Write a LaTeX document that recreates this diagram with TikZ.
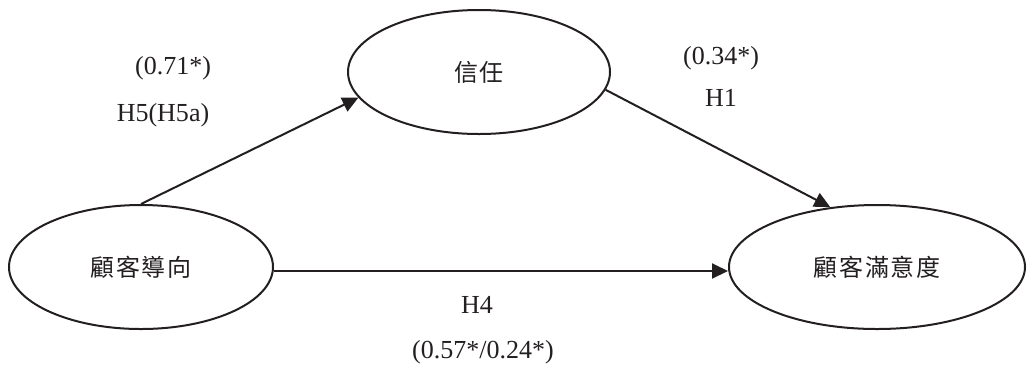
\documentclass[tikz,border=0pt]{standalone}
\usepackage{fontspec}
\setmainfont{Liberation Serif}
\newfontfamily\cjkfont[LetterSpace=8]{Noto Sans CJK TC}
\usetikzlibrary{shapes.geometric,arrows.meta}
\definecolor{ink}{HTML}{231F20}
\tikzset{
  construct/.style={ellipse, draw=ink, line width=2pt, inner sep=0pt,
    minimum height=124pt, font=\cjkfont\fontsize{24}{28}\selectfont, text=ink},
  path arrow/.style={draw=ink, line width=2pt,
    -{Triangle[length=16pt,width=15pt]}},
  coef/.style={font=\fontsize{26}{30}\selectfont, text=ink, inner sep=0pt}
}
\begin{document}
\begin{tikzpicture}[x=1pt,y=-1pt]
  \useasboundingbox (0,0) rectangle (1027,365);

  % latent constructs
  \node[construct, minimum width=264pt] (orient) at (141,267) {顧客導向};
  \node[construct, minimum width=262pt] (trust)  at (479,72)  {信任};
  \node[construct, minimum width=296pt] (satis)  at (877,267) {顧客滿意度};

  % structural paths
  \draw[path arrow] (orient.north) -- (trust.192);
  \draw[path arrow] (trust.352) -- (satis.128);
  \draw[path arrow] ([yshift=-4pt]orient.east) -- ([yshift=-4pt]satis.west);

  % path coefficients and hypotheses
  \node[coef] (c71) at (173,68)  {(0.71*)};
  \node[coef] (h5)  at (163,115) {H5(H5a)};
  \node[coef] (c34) at (721,58)  {(0.34*)};
  \node[coef] (h1)  at (721,98)  {H1};
  \node[coef] (h4)  at (477,305) {H4};
  \node[coef] (c57) at (483,352) {(0.57*/0.24*)};
\end{tikzpicture}
\end{document}
